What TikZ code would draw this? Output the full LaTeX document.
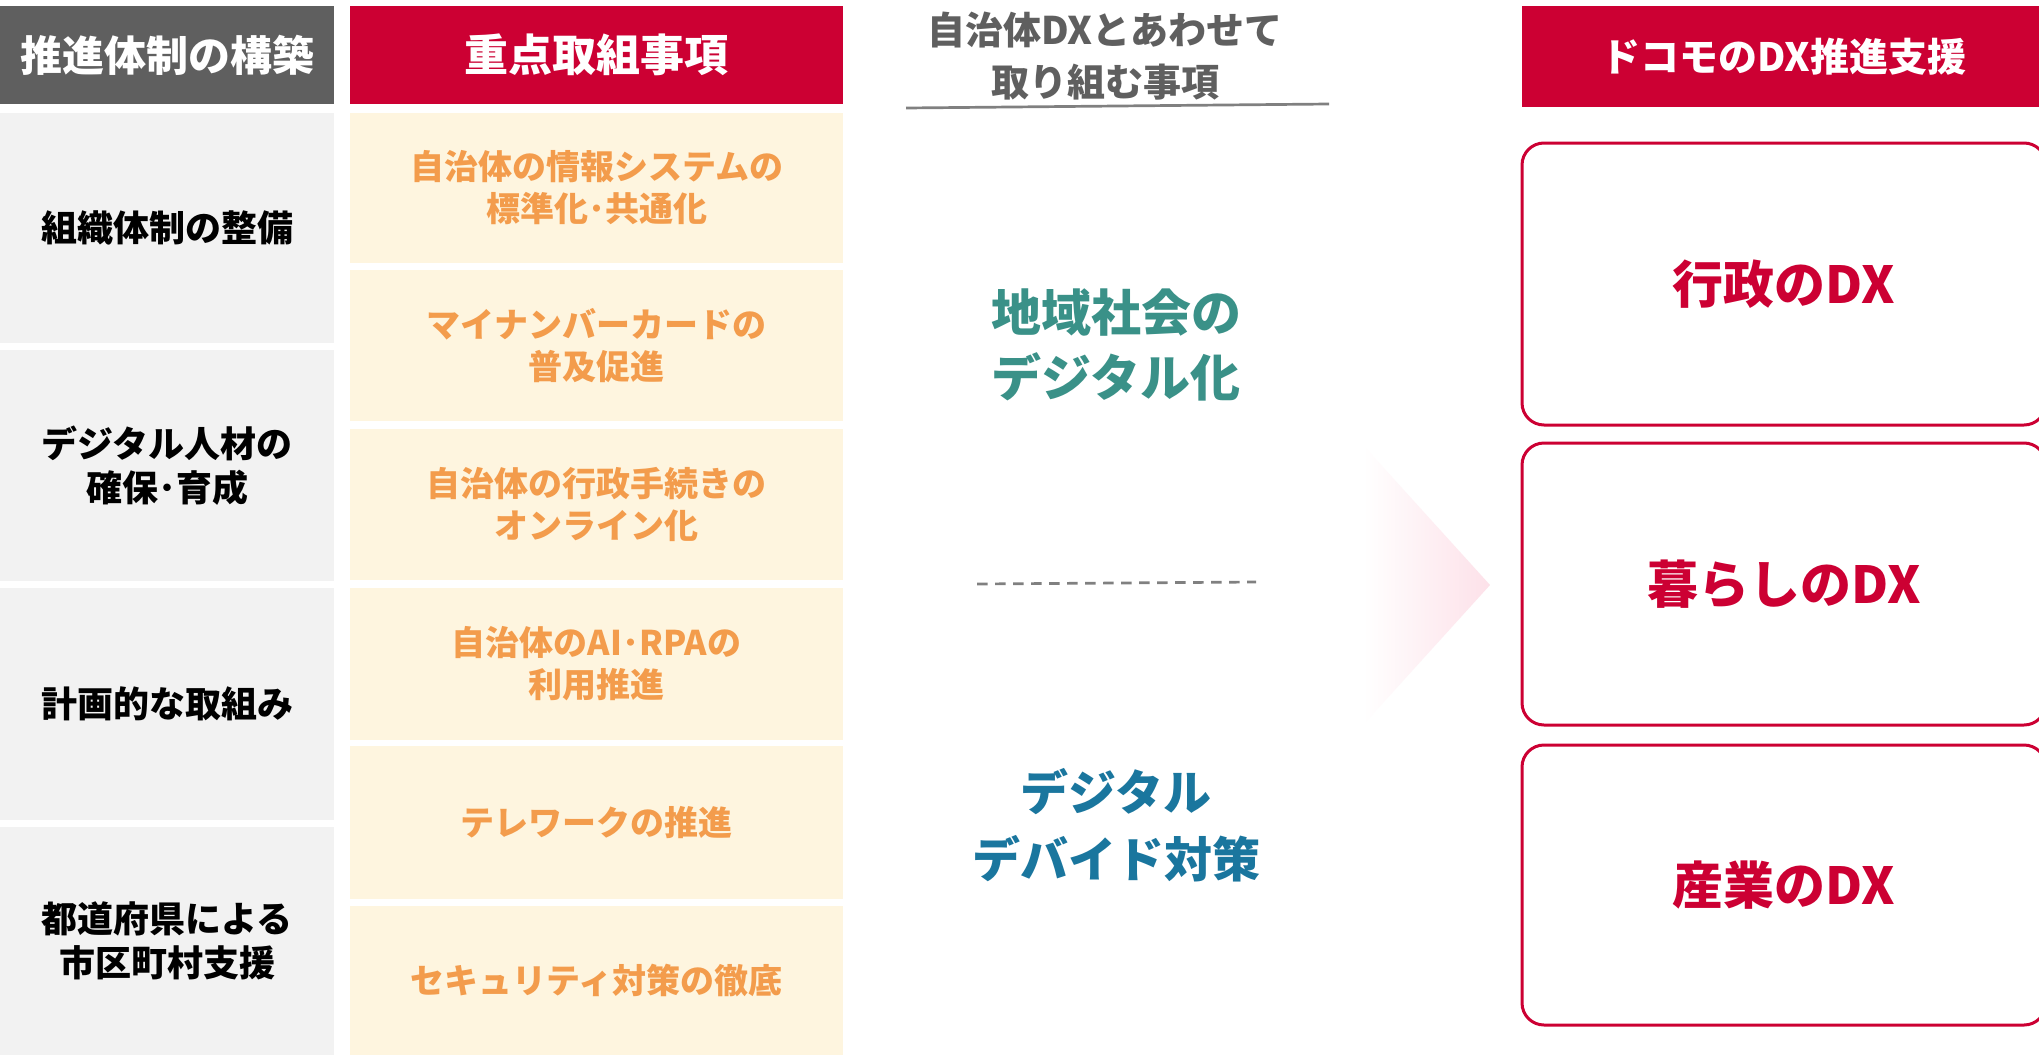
\documentclass[tikz,border=0pt]{standalone}
\usepackage{fontspec}
\setmainfont{Noto Sans CJK JP}
\definecolor{dkgray}{HTML}{5F5F5F}
\definecolor{dred}{HTML}{CC0033}
\definecolor{lgray}{HTML}{F2F2F2}
\definecolor{cream}{HTML}{FEF5DF}
\definecolor{orng}{HTML}{F39C4C}
\definecolor{tealtx}{HTML}{3A9188}
\definecolor{bluetx}{HTML}{1A769E}
\definecolor{lpink}{HTML}{FDE1E9}
\definecolor{lineg}{HTML}{808080}
\begin{document}
\begin{tikzpicture}[x=1pt,y=-1pt,
  cell/.style={rectangle, inner sep=0pt, outer sep=0pt, align=center},
  hdrleft/.style={cell, fill=dkgray, text=white, minimum width=334pt, minimum height=98pt, font=\bfseries\fontsize{42}{50}\selectfont},
  hdrred/.style={cell, fill=dred, text=white, font=\bfseries\fontsize{44}{50}\selectfont},
  leftcell/.style={cell, fill=lgray, text=black, minimum width=334pt, font=\bfseries\fontsize{36}{44}\selectfont},
  midcell/.style={cell, fill=cream, text=orng, minimum width=493pt, font=\bfseries\fontsize{34}{42}\selectfont},
  dxbox/.style={cell, draw=dred, line width=3pt, rounded corners=22pt, fill=white, text=dred, minimum width=524pt, minimum height=282pt, font=\bfseries\fontsize{51}{60}\selectfont},
  plaintx/.style={inner sep=0pt, align=center}
]
\useasboundingbox (0,0) rectangle (2039,1055);
\fill[white] (0,0) rectangle (2039,1055);

% left column
\node[hdrleft] (h1) at (167,55) {推進体制の構築};
\node[leftcell, minimum height=230pt] (l1) at (167,228) {組織体制の整備};
\node[leftcell, minimum height=231pt] (l2) at (167,465.5) {デジタル人材の\\確保･育成};
\node[leftcell, minimum height=232pt] (l3) at (167,704) {計画的な取組み};
\node[leftcell, minimum height=228pt] (l4) at (167,941) {都道府県による\\市区町村支援};

% middle column
\node[hdrred, minimum width=493pt, minimum height=98pt] (h2) at (596.5,55) {重点取組事項};
\node[midcell, minimum height=150pt] (m1) at (596.5,188) {自治体の情報システムの\\標準化･共通化};
\node[midcell, minimum height=151pt] (m2) at (596.5,345.5) {マイナンバーカードの\\普及促進};
\node[midcell, minimum height=151pt] (m3) at (596.5,504.5) {自治体の行政手続きの\\オンライン化};
\node[midcell, minimum height=152pt] (m4) at (596.5,664) {自治体のAI･RPAの\\利用推進};
\node[midcell, minimum height=153pt] (m5) at (596.5,822.5) {テレワークの推進};
\node[midcell, minimum height=149pt] (m6) at (596.5,980.5) {セキュリティ対策の徹底};

% centre column
\node[plaintx, text=dkgray, font=\bfseries\fontsize{38}{52}\selectfont] (h3) at (1105,56) {自治体DXとあわせて\\取り組む事項};
\coordinate (ul1) at (906,108);
\coordinate (ul2) at (1329,104);
\draw[lineg, line width=2.7pt] (ul1) -- (ul2);
\node[plaintx, text=tealtx, font=\bfseries\fontsize{50}{65}\selectfont] (c1) at (1116,345) {地域社会の\\デジタル化};
\coordinate (ds1) at (977,584);
\coordinate (ds2) at (1256,582);
\draw[lineg, line width=2.7pt, dash pattern=on 10.5pt off 7.5pt] (ds1) -- (ds2);
\node[plaintx, text=bluetx, font=\bfseries\fontsize{48}{67}\selectfont] (c2) at (1116,825) {デジタル\\デバイド対策};

% chevron
\shade[left color=white, right color=lpink] (1363,445) -- (1490,585) -- (1363,725) -- cycle;

% right column
\node[hdrred, minimum width=524pt, minimum height=101pt, font=\bfseries\fontsize{39}{50}\selectfont] (h4) at (1784,56.5) {ドコモのDX推進支援};
\node[dxbox] (r1) at (1784,284) {行政のDX};
\node[dxbox] (r2) at (1784,584) {暮らしのDX};
\node[dxbox, minimum height=280pt] (r3) at (1784,885) {産業のDX};
\end{tikzpicture}
\end{document}
